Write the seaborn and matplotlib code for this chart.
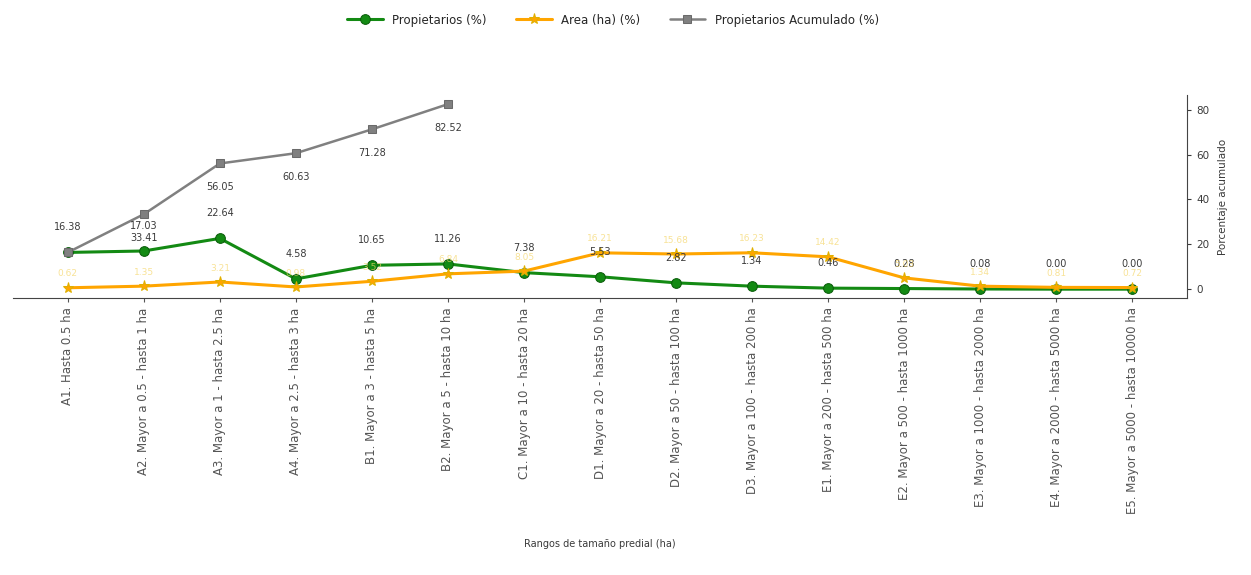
import matplotlib
matplotlib.use("Agg")
import matplotlib.pyplot as plt
import seaborn as sns
import pandas as pd

# datos
categorias = ["A1. Hasta 0.5 ha", "A2. Mayor a 0.5 - hasta 1 ha", "A3. Mayor a 1 - hasta 2.5 ha",
              "A4. Mayor a 2.5 - hasta 3 ha", "B1. Mayor a 3 - hasta 5 ha", "B2. Mayor a 5 - hasta 10 ha",
              "C1. Mayor a 10 - hasta 20 ha", "D1. Mayor a 20 - hasta 50 ha", "D2. Mayor a 50 - hasta 100 ha",
              "D3. Mayor a 100 - hasta 200 ha", "E1. Mayor a 200 - hasta 500 ha", "E2. Mayor a 500 - hasta 1000 ha",
              "E3. Mayor a 1000 - hasta 2000 ha", "E4. Mayor a 2000 - hasta 5000 ha", "E5. Mayor a 5000 - hasta 10000 ha"]
propietarios = [16.38, 17.03, 22.64, 4.58, 10.65, 11.26, 7.38, 5.53, 2.82, 1.34, 0.46, 0.28, 0.08, 0.00, 0.00]
area = [0.62, 1.35, 3.21, 0.98, 3.52, 6.84, 8.05, 16.21, 15.68, 16.23, 14.42, 5.03, 1.34, 0.81, 0.72]
acumulado = [16.38, 33.41, 56.05, 60.63, 71.28, 82.52]

df = pd.DataFrame({"rango": categorias, "prop": propietarios, "area": area})
df_acum = pd.DataFrame({"rango": categorias[:len(acumulado)], "acum": acumulado})

sns.set_style("white")
plt.rcParams["font.family"] = ["DejaVu Sans"]

verde = "#138a13"
naranja = "#FFA500"
gris = "#808080"
texto = "#3a3a3a"

fig = plt.figure(figsize=(12.51, 5.75), dpi=100)
ax = fig.add_axes([0.0104, 0.481, 0.9385, 0.354])

sns.lineplot(data=df, x="rango", y="prop", ax=ax, color=verde, marker="o", markersize=7,
             linewidth=2.2, markeredgecolor="#0b5e0b", label="Propietarios (%)", sort=False)
sns.lineplot(data=df, x="rango", y="area", ax=ax, color=naranja, marker="*", markersize=8,
             linewidth=2.2, markeredgecolor="#e0b000", label="Area (ha) (%)", sort=False)
sns.lineplot(data=df_acum, x="rango", y="acum", ax=ax, color=gris, marker="s", markersize=6,
             linewidth=1.8, markeredgecolor="#6a6a6a", label="Propietarios Acumulado (%)", sort=False)

# etiquetas de valores
for i, v in enumerate(propietarios):
    ax.annotate(f"{v:.2f}", (i, v), xytext=(0, 18), textcoords="offset points",
                ha="center", va="center", fontsize=7, color=texto)
for i, v in enumerate(area):
    ax.annotate(f"{v:.2f}", (i, v), xytext=(0, 10), textcoords="offset points",
                ha="center", va="center", fontsize=6.5, color="#f5d66a", alpha=0.7)
for i, v in enumerate(acumulado):
    if i == 0:
        continue
    ax.annotate(f"{v:.2f}", (i, v), xytext=(0, -17), textcoords="offset points",
                ha="center", va="center", fontsize=7, color=texto)

ax.set_xlim(-0.72, len(categorias) - 0.28)
ax.yaxis.tick_right()
ax.yaxis.set_label_position("right")
ax.set_yticks([0, 20, 40, 60, 80])
ax.set_ylabel("Porcentaje acumulado", fontsize=7.5, color=texto, labelpad=6)
ax.set_xlabel("Rangos de tamaño predial (ha)", fontsize=7, color=texto, labelpad=18)
ax.tick_params(axis="x", rotation=90, labelsize=8.5, colors="#555555", length=3, bottom=True)
ax.tick_params(axis="y", labelsize=7.5, colors=texto, length=3, right=True)
ax.spines["top"].set_visible(False)
ax.spines["left"].set_visible(False)
ax.spines["right"].set_color("#444444")
ax.spines["bottom"].set_color("#444444")

ax.legend(loc="upper center", bbox_to_anchor=(0.49, 0.995), bbox_transform=fig.transFigure,
          ncol=3, frameon=False, fontsize=8.5, handlelength=3, columnspacing=2.5)

fig.savefig("out.png", dpi=100)
